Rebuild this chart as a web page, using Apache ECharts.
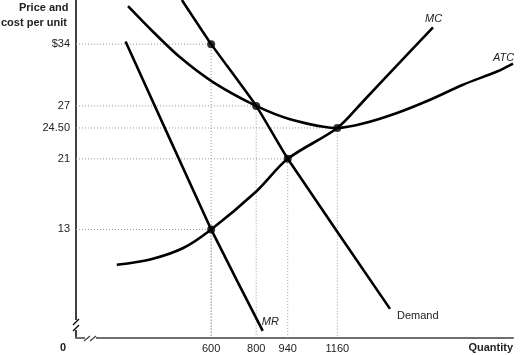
<!DOCTYPE html>
<html>
<head>
<meta charset="utf-8">
<script src="https://cdn.jsdelivr.net/npm/echarts@6/dist/echarts.min.js"></script>
<style>
html,body{margin:0;padding:0;background:#fff;}
#chart{width:525px;height:355px;}
</style>
</head>
<body>
<div id="chart"></div>
<script>
// ---- data ----
const quantityTicks = [600, 800, 940, 1160];
const priceTicks = [13, 21, 24.5, 27, 34];
const mcCurve = [[181, 9.0], [329, 9.6], [476, 10.9], [600, 13], [800, 17.3], [940, 21], [1160, 24.5], [1274, 27.5], [1425, 31.6], [1585, 35.9]];
const atcCurve = [[231, 38.3], [342, 35.4], [462, 32.5], [608, 29.7], [800, 27], [950, 25.5], [1160, 24.5], [1274, 25.0], [1425, 26.2], [1572, 27.7], [1718, 29.4], [1869, 30.9], [1940, 31.8]];
const demandCurve = [[470, 39], [600, 34], [800, 27], [940, 21], [1394, 4]];
const mrCurve = [[220, 34.3], [600, 13], [829, 1.5]];
const keyPoints = [[600, 34], [800, 27], [940, 21], [1160, 24.5], [600, 13]];

// ---- layout ----
const X_MIN = 0, X_MAX = 1940;
const Y_MIN = 0.7, Y_MAX = 39.0;
const FONT = "'Liberation Sans', Arial, Helvetica, sans-serif";
const TXT = '#222';

const chart = echarts.init(document.getElementById('chart'), null, {renderer: 'canvas'});

function priceLabel(v) {
  if (v === 34) return '$34';
  if (v === 24.5) return '24.50';
  return String(v);
}

const guideSeries = keyPoints.map(function (p) {
  return {
    type: 'line',
    data: [[X_MIN, p[1]], [p[0], p[1]], [p[0], Y_MIN]],
    symbol: 'none',
    silent: true,
    lineStyle: {color: '#9a9a9a', width: 1, type: [1, 2]},
    z: 1
  };
});

function curve(name, data, smooth, lbl) {
  return {
    type: 'line',
    name: name,
    data: data,
    symbol: 'none',
    smooth: smooth,
    lineStyle: {color: '#000', width: 2.6},
    z: 3,
    endLabel: Object.assign({
      show: true,
      formatter: name,
      distance: 0,
      fontFamily: FONT,
      fontSize: 11,
      color: TXT
    }, lbl)
  };
}

const option = {
  animation: false,
  backgroundColor: '#fff',
  grid: {left: 76, right: 12, top: 0, bottom: 17},
  xAxis: {
    type: 'value', min: X_MIN, max: X_MAX,
    splitLine: {show: false},
    axisTick: {show: false},
    axisLine: {show: true, lineStyle: {color: '#6e6e6e', width: 2}},
    axisLabel: {
      customValues: quantityTicks,
      formatter: function (v) { return String(v); },
      margin: 5,
      fontFamily: FONT, fontSize: 11, color: TXT
    }
  },
  yAxis: {
    type: 'value', min: Y_MIN, max: Y_MAX,
    splitLine: {show: false},
    axisTick: {show: false},
    axisLine: {show: true, lineStyle: {color: '#000', width: 1.5}},
    axisLabel: {
      customValues: priceTicks,
      formatter: priceLabel,
      margin: 6,
      fontFamily: FONT, fontSize: 11, color: TXT
    }
  },
  series: guideSeries.concat([
    curve('MC', mcCurve, 0.3, {offset: [-8, -8], fontStyle: 'italic'}),
    curve('ATC', atcCurve, 0.3, {offset: [-20, -6], fontStyle: 'italic'}),
    curve('Demand', demandCurve, 0.15, {offset: [7, 7]}),
    curve('MR', mrCurve, 0.1, {offset: [-1, -9], fontStyle: 'italic'}),
    {
      type: 'scatter',
      data: keyPoints,
      symbol: 'circle',
      symbolSize: 8,
      itemStyle: {color: '#000'},
      z: 5
    }
  ]),
  graphic: [
    {type: 'text', left: 19, top: 2, style: {text: 'Price and', font: 'bold 11px ' + FONT, fill: TXT}},
    {type: 'text', left: 1, top: 17, style: {text: 'cost per unit', font: 'bold 11px ' + FONT, fill: TXT}},
    {type: 'text', left: 60, top: 342, style: {text: '0', font: 'bold 11px ' + FONT, fill: TXT}},
    {type: 'text', right: 12, top: 342, style: {text: 'Quantity', font: 'bold 11px ' + FONT, fill: TXT}},
    {type: 'rect', shape: {x: 73, y: 320, width: 6, height: 10}, style: {fill: '#fff'}, z: 100},
    {type: 'line', shape: {x1: 73, y1: 325, x2: 79, y2: 319}, style: {stroke: '#000', lineWidth: 1.3}, z: 101},
    {type: 'line', shape: {x1: 73, y1: 331, x2: 79, y2: 325}, style: {stroke: '#000', lineWidth: 1.3}, z: 101},
    {type: 'rect', shape: {x: 85, y: 335, width: 11, height: 6}, style: {fill: '#fff'}, z: 100},
    {type: 'line', shape: {x1: 84, y1: 341, x2: 90, y2: 336}, style: {stroke: '#444', lineWidth: 1.3}, z: 101},
    {type: 'line', shape: {x1: 90, y1: 341, x2: 96, y2: 336}, style: {stroke: '#444', lineWidth: 1.3}, z: 101}
  ]
};
chart.setOption(option);
</script>
</body>
</html>
